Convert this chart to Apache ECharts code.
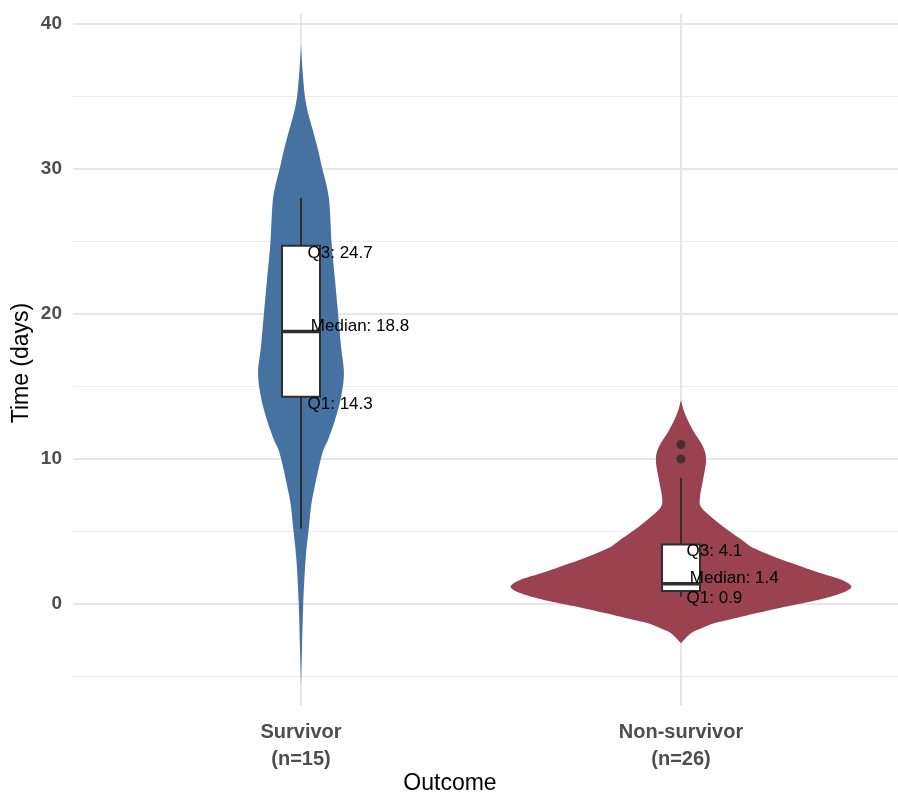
<!DOCTYPE html>
<html><head><meta charset="utf-8">
<script src="https://cdn.jsdelivr.net/npm/echarts@6/dist/echarts.min.js"></script>
<style>html,body{margin:0;padding:0;background:#fff}#c{width:898px;height:793px}</style>
</head><body><div id="c"></div>
<script>
// ---- data ----
const categories = ['Survivor', 'Non-survivor'];
const sampleSizes = [15, 26];
const yTicks = [0, 10, 20, 30, 40];
const yMinorTicks = [-5, 5, 15, 25, 35];
// violin outlines: y value and full violin width (in category units)
const survivorDensityY = [38.55, 36.83, 34.97, 33.72, 32.69, 31.31, 30.14, 28.90, 27.86, 26.48, 24.90, 22.34, 20.07, 17.72, 15.93, 14.28, 12.69, 11.31, 10.62, 9.59, 8.34, 6.83, 5.10, 3.03, 0.07, -3.17, -5.6];
const survivorDensityW = [0, 0.008, 0.021, 0.040, 0.062, 0.090, 0.110, 0.134, 0.148, 0.155, 0.161, 0.179, 0.195, 0.211, 0.226, 0.211, 0.179, 0.142, 0.118, 0.097, 0.076, 0.054, 0.040, 0.024, 0.012, 0.005, 0];
const nonSurvivorDensityY = [14.07, 13.15, 12.0, 10.85, 9.93, 8.55, 7.40, 6.71, 6.02, 5.10, 4.41, 3.95, 3.52, 3.03, 2.57, 2.12, 1.66, 1.19, 0.76, 0.28, -0.19, -0.64, -1.10, -1.33, -1.66, -2.02, -2.71];
const nonSurvivorDensityW = [0, 0.020, 0.062, 0.116, 0.132, 0.116, 0.100, 0.105, 0.158, 0.246, 0.321, 0.368, 0.442, 0.535, 0.637, 0.737, 0.847, 0.897, 0.847, 0.721, 0.547, 0.395, 0.247, 0.174, 0.111, 0.053, 0];
const q1 = [14.3, 0.9];
const medians = [18.8, 1.4];
const q3 = [24.7, 4.1];
const whiskerLow = [5.2, 0.5];
const whiskerHigh = [28.0, 8.7];
const outliers = [[2, 11.0], [2, 10.0]];

// ---- styling ----
const FONT = '"Liberation Sans", Arial, Helvetica, sans-serif';
const violinColors = ['#4672a1', '#9a4250'];
const densityY = [survivorDensityY, nonSurvivorDensityY];
const densityW = [survivorDensityW, nonSurvivorDensityW];
const BOX_W = 0.1;
const LINE_C = '#2e2e2e';

const measureCtx = document.createElement('canvas').getContext('2d');
function textWidth(t, size) {
  measureCtx.font = size + 'px ' + FONT;
  return measureCtx.measureText(t).width;
}

// smooth outline path through the pixel points (Catmull-Rom -> cubic bezier), rendering only
function smoothSide(pts) {
  let d = '';
  for (let k = 0; k < pts.length - 1; k++) {
    const p0 = pts[Math.max(k - 1, 0)], p1 = pts[k], p2 = pts[k + 1], p3 = pts[Math.min(k + 2, pts.length - 1)];
    const c1 = [p1[0] + (p2[0] - p0[0]) / 6, p1[1] + (p2[1] - p0[1]) / 6];
    const c2 = [p2[0] - (p3[0] - p1[0]) / 6, p2[1] - (p3[1] - p1[1]) / 6];
    d += ' C' + c1[0] + ',' + c1[1] + ' ' + c2[0] + ',' + c2[1] + ' ' + p2[0] + ',' + p2[1];
  }
  return d;
}

const chart = echarts.init(document.getElementById('c'), null, {renderer: 'canvas'});

const option = {
  backgroundColor: '#ffffff',
  animation: false,
  grid: {left: 73, right: 0, top: 13.85, bottom: 87.5, containLabel: false},
  xAxis: {
    type: 'value', min: 0.4, max: 2.5711,
    axisLine: {show: false}, axisTick: {show: false}, splitLine: {show: false},
    axisLabel: {
      customValues: [1, 2],
      formatter: v => categories[Math.round(v) - 1] + '\n(n=' + sampleSizes[Math.round(v) - 1] + ')',
      fontFamily: FONT, fontWeight: 'bold', fontSize: 20, color: '#4d4d4d', lineHeight: 27, margin: 13
    }
  },
  yAxis: {
    type: 'value', min: -7, max: 40.7,
    axisLine: {show: false}, axisTick: {show: false}, splitLine: {show: false},
    axisLabel: {
      customValues: yTicks,
      fontFamily: FONT, fontWeight: 'bold', fontSize: 19, color: '#4d4d4d', margin: 11
    }
  },
  graphic: [
    {type: 'text', x: 450, y: 784, style: {text: 'Outcome', font: '23px ' + FONT, fill: '#000', align: 'center', verticalAlign: 'middle'}},
    {type: 'text', x: 22, y: 363, rotation: Math.PI / 2, style: {text: 'Time (days)', font: '23px ' + FONT, fill: '#000', align: 'center', verticalAlign: 'middle'}}
  ],
  series: [
    { // minor horizontal grid
      type: 'custom', silent: true, z: 1,
      data: yMinorTicks.map(v => [0, v]),
      renderItem: (params, api) => {
        const cs = params.coordSys; const y = api.coord([1, api.value(1)])[1];
        return {type: 'line', shape: {x1: cs.x, y1: y, x2: cs.x + cs.width, y2: y}, style: {stroke: '#ececec', lineWidth: 1.2}};
      }
    },
    { // major horizontal grid
      type: 'custom', silent: true, z: 1,
      data: yTicks.map(v => [0, v]),
      renderItem: (params, api) => {
        const cs = params.coordSys; const y = api.coord([1, api.value(1)])[1];
        return {type: 'line', shape: {x1: cs.x, y1: y, x2: cs.x + cs.width, y2: y}, style: {stroke: '#e6e6e6', lineWidth: 2}};
      }
    },
    { // vertical grid
      type: 'custom', silent: true, z: 1,
      data: categories.map((c, i) => [i + 1, 0]),
      renderItem: (params, api) => {
        const cs = params.coordSys; const x = api.coord([api.value(0), 0])[0];
        return {type: 'line', shape: {x1: x, y1: cs.y, x2: x, y2: cs.y + cs.height}, style: {stroke: '#e6e6e6', lineWidth: 2}};
      }
    },
    { // violins
      type: 'custom', z: 2,
      data: categories.map((c, i) => [i + 1, medians[i]]),
      renderItem: (params, api) => {
        const i = params.dataIndex; const cx = i + 1;
        const ys = densityY[i], ws = densityW[i];
        const left = [], right = [];
        for (let j = 0; j < ys.length; j++) left.push(api.coord([cx - ws[j] / 2, ys[j]]));
        for (let j = ys.length - 1; j >= 0; j--) right.push(api.coord([cx + ws[j] / 2, ys[j]]));
        const d = 'M' + left[0][0] + ',' + left[0][1] + smoothSide(left) + smoothSide(right) + ' Z';
        return {type: 'path', shape: {pathData: d}, style: {fill: violinColors[i], stroke: null}};
      }
    },
    { // boxplots
      type: 'custom', z: 3,
      data: categories.map((c, i) => [i + 1, medians[i]]),
      renderItem: (params, api) => {
        const i = params.dataIndex; const cx = i + 1;
        const tl = api.coord([cx - BOX_W / 2, q3[i]]);
        const br = api.coord([cx + BOX_W / 2, q1[i]]);
        const c = api.coord([cx, medians[i]]);
        const wh = api.coord([cx, whiskerHigh[i]]);
        const wl = api.coord([cx, whiskerLow[i]]);
        const ml = api.coord([cx - BOX_W / 2, medians[i]]);
        const mr = api.coord([cx + BOX_W / 2, medians[i]]);
        return {type: 'group', children: [
          {type: 'line', shape: {x1: c[0], y1: tl[1], x2: wh[0], y2: wh[1]}, style: {stroke: LINE_C, lineWidth: 2}},
          {type: 'line', shape: {x1: c[0], y1: br[1], x2: wl[0], y2: wl[1]}, style: {stroke: LINE_C, lineWidth: 2}},
          {type: 'rect', shape: {x: tl[0], y: tl[1], width: br[0] - tl[0], height: br[1] - tl[1]}, style: {fill: '#ffffff', stroke: LINE_C, lineWidth: 2}},
          {type: 'line', shape: {x1: ml[0], y1: ml[1], x2: mr[0], y2: mr[1]}, style: {stroke: LINE_C, lineWidth: 3.5}}
        ]};
      }
    },
    { // quartile labels
      type: 'custom', z: 5,
      data: categories.map((c, i) => [i + 1, medians[i]]),
      renderItem: (params, api) => {
        const i = params.dataIndex; const cx = i + 1;
        const items = [
          {t: 'Q3: ' + q3[i].toFixed(1), v: q3[i], dy: 7},
          {t: 'Median: ' + medians[i].toFixed(1), v: medians[i], dy: -5},
          {t: 'Q1: ' + q1[i].toFixed(1), v: q1[i], dy: 7.5}
        ];
        return {type: 'group', children: items.map(it => {
          const p = api.coord([cx, it.v]);
          return {type: 'text', x: p[0] + 0.1 * textWidth(it.t, 17), y: p[1] + it.dy,
            style: {text: it.t, font: '17px ' + FONT, fill: '#000', align: 'left', verticalAlign: 'middle'}};
        })};
      }
    },
    { // outliers
      type: 'scatter', z: 4,
      data: outliers,
      symbol: 'circle', symbolSize: 9,
      itemStyle: {color: '#2b2b2b'}
    }
  ]
};
chart.setOption(option);
</script>
</body></html>
